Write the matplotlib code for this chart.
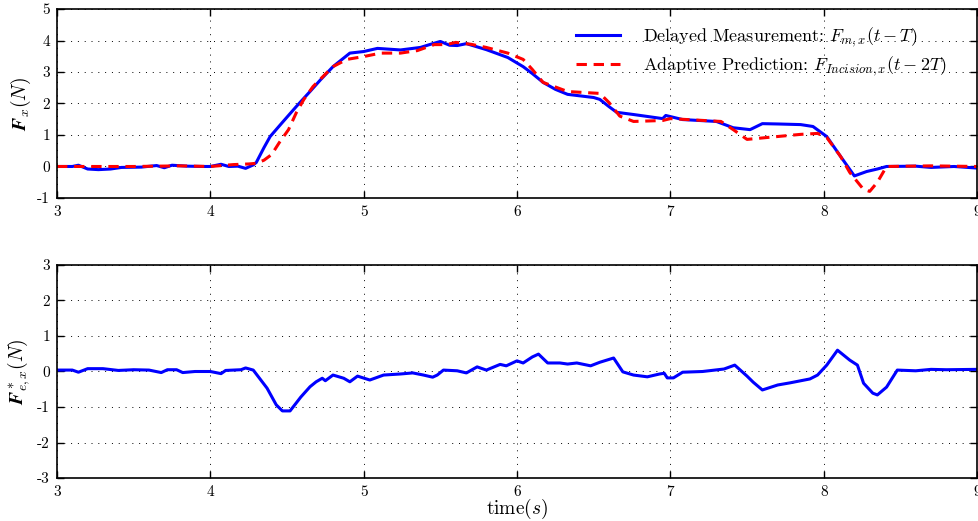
import matplotlib
matplotlib.use("Agg")
import matplotlib.pyplot as plt

plt.rcParams['font.family'] = 'serif'
plt.rcParams['font.serif'] = ['cmr10']
plt.rcParams['mathtext.fontset'] = 'cm'
plt.rcParams['axes.unicode_minus'] = False
plt.rcParams['axes.formatter.use_mathtext'] = False

# delayed measurement F_m,x(t-T)
meas_t = [3.0, 3.1, 3.14, 3.2, 3.27, 3.35, 3.42, 3.55, 3.65, 3.7, 3.75, 3.85, 3.95,
          4.0, 4.07, 4.12, 4.18, 4.23, 4.28, 4.3, 4.35, 4.39, 4.47, 4.56, 4.65, 4.72,
          4.8, 4.91, 5.0, 5.09, 5.24, 5.37, 5.45, 5.5, 5.56, 5.61, 5.67, 5.8, 5.94,
          6.04, 6.1, 6.17, 6.25, 6.33, 6.5, 6.54, 6.6, 6.65, 6.76, 6.95, 6.97, 7.08,
          7.3, 7.41, 7.52, 7.6, 7.7, 7.85, 7.93, 8.02, 8.11, 8.2, 8.28, 8.35, 8.41,
          8.6, 8.7, 8.85, 9.0]
meas_f = [0.0, 0.0, 0.04, -0.08, -0.1, -0.08, -0.03, -0.02, 0.03, -0.04, 0.04, 0.01, 0.0,
          0.0, 0.07, 0.0, 0.01, -0.06, 0.05, 0.13, 0.6, 0.95, 1.4, 1.9, 2.38, 2.76,
          3.17, 3.6, 3.65, 3.75, 3.7, 3.78, 3.9, 3.97, 3.85, 3.84, 3.9, 3.71, 3.46,
          3.17, 2.95, 2.67, 2.45, 2.29, 2.19, 2.13, 1.9, 1.72, 1.65, 1.52, 1.62, 1.49,
          1.43, 1.23, 1.17, 1.36, 1.35, 1.33, 1.27, 0.95, 0.32, -0.3, -0.16, -0.08, 0.0,
          0.01, -0.03, 0.0, -0.05]

# adaptive prediction F_Incision,x(t-2T)
pred_t = [3.0, 3.2, 3.5, 3.8, 4.0, 4.15, 4.25, 4.3, 4.35, 4.4, 4.45, 4.51, 4.56, 4.61,
          4.67, 4.76, 4.8, 4.89, 5.0, 5.11, 5.24, 5.35, 5.46, 5.54, 5.6, 5.7, 5.8,
          5.94, 6.04, 6.1, 6.17, 6.33, 6.54, 6.6, 6.67, 6.76, 6.95, 7.0, 7.33, 7.41,
          7.5, 7.63, 7.85, 7.96, 8.02, 8.11, 8.17, 8.26, 8.3, 8.35, 8.41, 8.7, 9.0]
pred_f = [0.0, 0.0, 0.0, 0.02, 0.0, 0.06, 0.08, 0.1, 0.2, 0.38, 0.76, 1.17, 1.7, 2.13,
          2.54, 2.98, 3.17, 3.4, 3.49, 3.6, 3.6, 3.68, 3.87, 3.87, 3.94, 3.88, 3.78,
          3.6, 3.4, 3.08, 2.67, 2.38, 2.32, 2.03, 1.6, 1.43, 1.46, 1.52, 1.43, 1.17,
          0.86, 0.92, 1.02, 1.05, 0.92, 0.32, -0.19, -0.73, -0.79, -0.5, 0.0, 0.02, 0.0]

# estimated environment force F*_e,x
env_t = [3.0, 3.1, 3.14, 3.2, 3.3, 3.4, 3.5, 3.6, 3.68, 3.72, 3.78, 3.82, 3.9, 4.0,
         4.07, 4.1, 4.2, 4.23, 4.28, 4.37, 4.43, 4.47, 4.52, 4.59, 4.65, 4.69, 4.73,
         4.75, 4.8, 4.87, 4.91, 4.96, 5.04, 5.13, 5.24, 5.32, 5.39, 5.45, 5.48, 5.52,
         5.61, 5.67, 5.74, 5.8, 5.89, 5.93, 6.0, 6.04, 6.1, 6.14, 6.2, 6.28, 6.33,
         6.39, 6.48, 6.54, 6.63, 6.69, 6.76, 6.85, 6.93, 6.96, 6.98, 7.02, 7.08, 7.21,
         7.35, 7.42, 7.5, 7.54, 7.6, 7.7, 7.78, 7.91, 7.96, 8.02, 8.09, 8.17, 8.22,
         8.26, 8.32, 8.35, 8.41, 8.48, 8.6, 8.7, 8.8, 9.0]
env_f = [0.04, 0.04, -0.02, 0.08, 0.08, 0.03, 0.05, 0.04, -0.03, 0.05, 0.05, -0.03, 0.0, 0.0,
         -0.06, 0.03, 0.05, 0.1, 0.04, -0.47, -0.94, -1.11, -1.11, -0.72, -0.43, -0.29, -0.19,
         -0.26, -0.1, -0.19, -0.29, -0.13, -0.24, -0.1, -0.07, -0.04, -0.1, -0.16, -0.1, 0.04,
         0.02, -0.04, 0.13, 0.04, 0.2, 0.16, 0.3, 0.24, 0.41, 0.49, 0.24, 0.24, 0.21,
         0.24, 0.16, 0.26, 0.38, -0.01, -0.1, -0.15, -0.07, -0.05, -0.18, -0.18, -0.02, 0.0,
         0.07, 0.18, -0.13, -0.3, -0.52, -0.38, -0.32, -0.21, -0.1, 0.18, 0.6, 0.32, 0.18,
         -0.33, -0.61, -0.66, -0.44, 0.04, 0.02, 0.06, 0.05, 0.06]

x_ticks = [3, 4, 5, 6, 7, 8, 9]

fig = plt.figure(figsize=(9.79, 5.21), dpi=100)
ax1 = fig.add_axes([0.0582, 0.620, 0.9398, 0.3627])
ax2 = fig.add_axes([0.0582, 0.0825, 0.9398, 0.4089])

ax1.plot(meas_t, meas_f, color='blue', lw=2.2, label=r'Delayed Measurement: $F_{m,x}(t-T)$')
ax1.plot(pred_t, pred_f, color='red', lw=2.2, dashes=(3.4, 2.2),
         label=r'Adaptive Prediction: $F_{Incision,x}(t-2T)$')
ax2.plot(env_t, env_f, color='blue', lw=2.2)

for ax, ylim in ((ax1, (-1, 5)), (ax2, (-3, 3))):
    ax.set_xlim(3, 9)
    ax.set_ylim(*ylim)
    ax.set_xticks(x_ticks)
    ax.set_yticks(range(ylim[0], ylim[1] + 1))
    ax.grid(True, color='black', linestyle=(0, (1, 6)), linewidth=0.7)
    ax.tick_params(direction='in', length=5, width=1, top=True, right=True,
                   labelsize=11, pad=5)
    for s in ax.spines.values():
        s.set_linewidth(1.2)

ax1.set_ylabel(r'$\mathbfit{F}_x(N)$', fontsize=14)
ax1.yaxis.set_label_coords(-0.026, 0.5)
ax2.set_ylabel(r'$\mathbfit{F}^*_{e,x}(N)$', fontsize=14)
ax2.yaxis.set_label_coords(-0.026, 0.5)
ax2.set_xlabel(r'time$(s)$', fontsize=14, labelpad=-1)

leg = ax1.legend(loc='upper right', frameon=False, fontsize=13, handlelength=2.4,
                 handletextpad=1.3, labelspacing=0.3, bbox_to_anchor=(0.985, 1.0))

fig.savefig('out.png', dpi=100)
